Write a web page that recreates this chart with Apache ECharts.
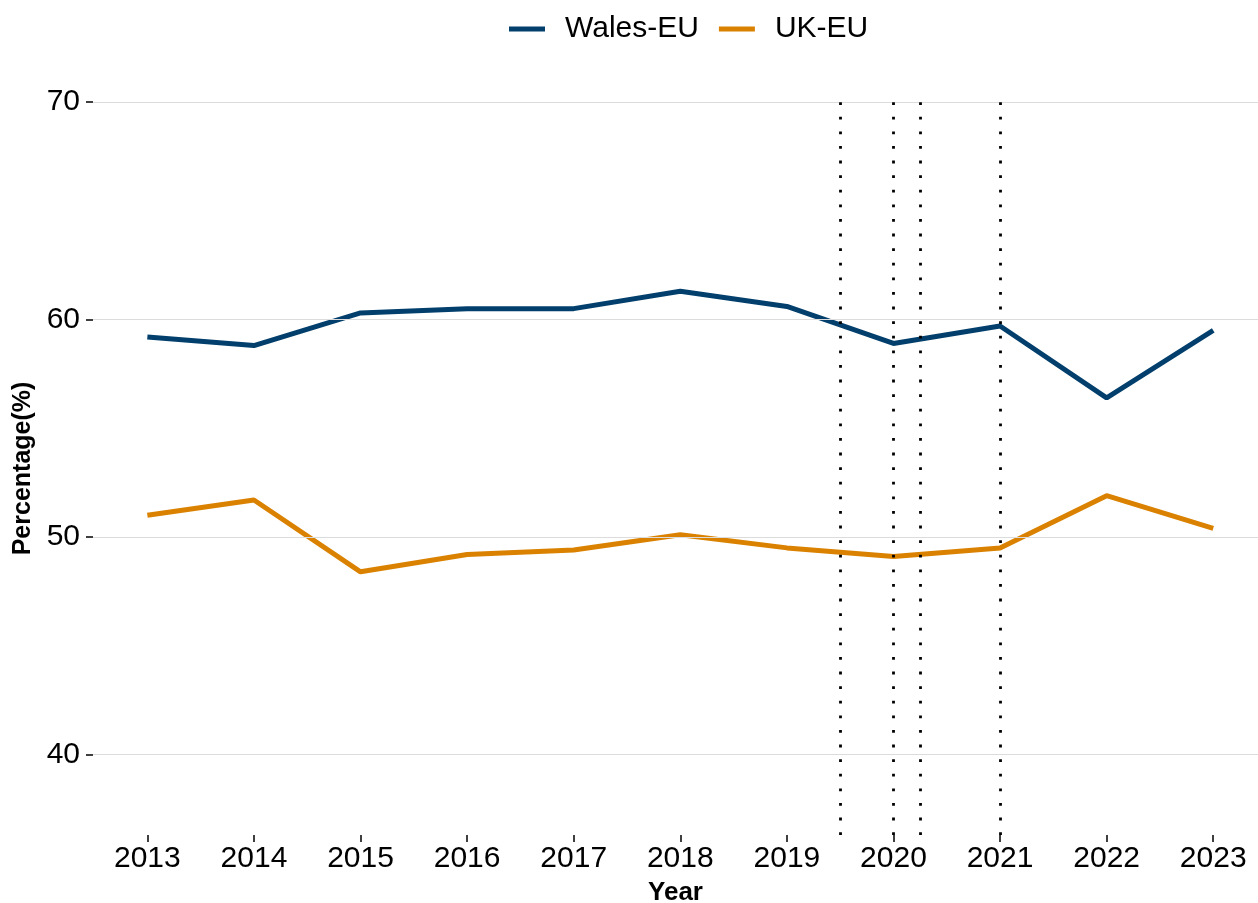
<!DOCTYPE html>
<html>
<head>
<meta charset="utf-8">
<script src="https://cdn.jsdelivr.net/npm/echarts@6/dist/echarts.min.js"></script>
<style>html,body{margin:0;padding:0;background:#fff}#c{width:1258px;height:903px}</style>
</head>
<body>
<div id="c"></div>
<script>
const years = [2013, 2014, 2015, 2016, 2017, 2018, 2019, 2020, 2021, 2022, 2023];
const walesEU = [59.2, 58.8, 60.3, 60.5, 60.5, 61.3, 60.6, 58.9, 59.7, 56.4, 59.5];
const ukEU = [51.0, 51.7, 48.4, 49.2, 49.4, 50.1, 49.5, 49.1, 49.5, 51.9, 50.4];
const yTicks = [40, 50, 60, 70];
const vLines = [2019.5, 2020, 2020.25, 2021];

const FONT = 'Liberation Sans, Arial, sans-serif';
const chart = echarts.init(document.getElementById('c'), null, {renderer: 'canvas'});
const pair = arr => years.map((y, i) => [y, arr[i]]);

chart.setOption({
  animation: false,
  backgroundColor: '#ffffff',
  textStyle: {fontFamily: FONT},
  legend: {
    top: 9, left: 504,
    icon: 'rect', itemWidth: 36, itemHeight: 5, itemGap: 20,
    textStyle: {fontSize: 30, color: '#000', fontFamily: FONT, padding: [0, 0, 0, 15]},
    data: ['Wales-EU', 'UK-EU']
  },
  grid: {left: 93, right: 0, top: 102, bottom: 68, outerBoundsMode: 'none'},
  xAxis: {
    type: 'value', min: 2012.49, max: 2023.42,
    name: 'Year', nameLocation: 'middle', nameGap: 45,
    nameTextStyle: {fontSize: 26, fontWeight: 'bold', color: '#000', fontFamily: FONT},
    axisLine: {show: false},
    axisTick: {show: true, length: 7, lineStyle: {color: '#000', width: 1.5}, customValues: years},
    axisLabel: {fontSize: 30, color: '#000', margin: 9, customValues: years, formatter: v => String(v)},
    splitLine: {show: false}
  },
  yAxis: {
    type: 'value', min: 36.3, max: 70,
    name: 'Percentage(%)', nameLocation: 'middle', nameGap: 57,
    nameTextStyle: {fontSize: 25, fontWeight: 'bold', color: '#000', fontFamily: FONT},
    axisLine: {show: false},
    axisTick: {show: true, length: 7, lineStyle: {color: '#000', width: 1.5}, customValues: yTicks},
    axisLabel: {fontSize: 30, color: '#000', margin: 13, customValues: yTicks, padding: [5, 0, 0, 0]},
    splitLine: {show: false}
  },
  series: [
    {
      name: 'grid', type: 'line', data: [], silent: true,
      markLine: {
        silent: true, symbol: 'none', label: {show: false},
        lineStyle: {color: '#dcdcdc', width: 1.2, type: 'solid'},
        data: yTicks.map(v => ({yAxis: v}))
      }
    },
    {
      name: 'Wales-EU', type: 'line', data: pair(walesEU),
      showSymbol: false, symbol: 'none',
      itemStyle: {color: '#023f6c'},
      lineStyle: {color: '#023f6c', width: 5}
    },
    {
      name: 'UK-EU', type: 'line', data: pair(ukEU),
      showSymbol: false, symbol: 'none',
      itemStyle: {color: '#da8200'},
      lineStyle: {color: '#da8200', width: 5}
    },
    {
      name: 'vlines', type: 'line', data: [], silent: true, z: 5,
      markLine: {
        silent: true, symbol: 'none', label: {show: false},
        lineStyle: {color: '#000', width: 2.8, type: [2.8, 11.8], cap: 'butt'},
        data: vLines.map(v => ({xAxis: v}))
      }
    }
  ]
});
</script>
</body>
</html>
